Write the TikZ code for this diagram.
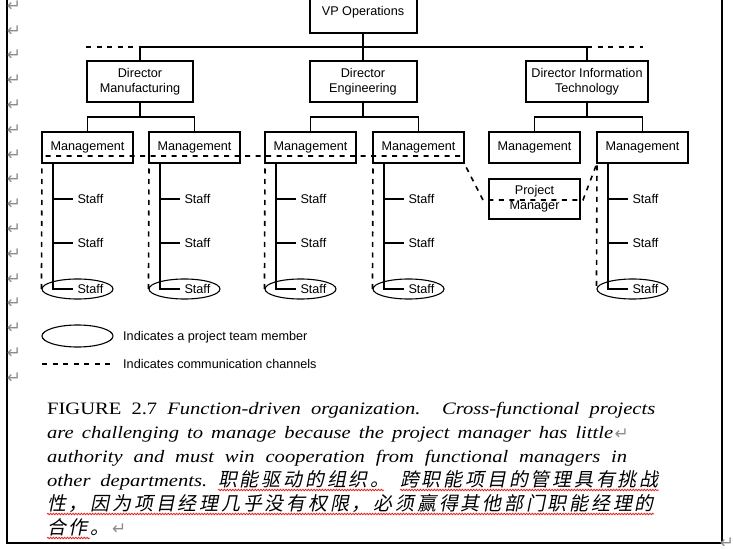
\documentclass[tikz,border=0pt]{standalone}
\usepackage{fontspec}
\usepackage{tikz}
\usetikzlibrary{shapes.geometric}
\usetikzlibrary{calc}
\usetikzlibrary{decorations.pathmorphing}
\setmainfont[FakeStretch=1.18]{Liberation Serif}
\newfontfamily\orgfont{Liberation Sans}
\newfontfamily\cjkfont[FakeSlant=0.2,LetterSpace=15]{Noto Sans CJK SC}
\newfontfamily\markfont{DejaVu Sans}
\definecolor{markgray}{RGB}{140,140,140}
\definecolor{wavyred}{RGB}{226,32,32}

\begin{document}
\begin{tikzpicture}[x=1bp, y=-1bp,
  orgbox/.style={draw, line width=2bp, inner sep=0pt, outer sep=0pt, align=center,
    font=\orgfont\fontsize{12.7}{15}\selectfont},
  mgmtbox/.style={orgbox, minimum width=91bp, minimum height=31bp},
  dirbox/.style={orgbox, minimum height=41bp},
  staff/.style={anchor=west, inner xsep=4.5bp, inner ysep=1bp, outer sep=0pt,
    font=\orgfont\fontsize{12.7}{15}\selectfont},
  team/.style={draw, ellipse, line width=1.1bp, inner sep=0pt, minimum width=71bp, minimum height=20bp},
  orgline/.style={line width=1.6bp},
  commline/.style={line width=1.6bp, dash pattern=on 5bp off 5.5bp},
  legtext/.style={anchor=west, inner sep=0pt, font=\orgfont\fontsize{12.7}{15}\selectfont},
  caption/.style={anchor=base west, inner sep=0pt, font=\fontsize{17.5}{24}\selectfont},
  cjkcaption/.style={anchor=base west, inner sep=0pt, font=\cjkfont\fontsize{19}{24}\selectfont},
  parmark/.style={inner sep=0pt, text=markgray, font=\markfont\fontsize{17}{17}\selectfont},
  wavy/.style={draw=wavyred, line width=0.8bp, decorate, decoration={snake, amplitude=0.75bp, segment length=2.8bp}},
  frameline/.style={line width=2.2bp}]

\useasboundingbox (0,0) rectangle (733,549);

% Frame
\coordinate (frameTL) at (7,-2);
\coordinate (frameBL) at (7,543);
\coordinate (frameBR) at (722,543);
\coordinate (frameTR) at (722,-2);
\draw[frameline] (frameTL) -- (frameBL) -- (frameBR) -- (frameTR);

% Paragraph marks
\foreach \i in {0,...,15}
  \node[parmark] (mark\i) at (14, 6+24.8*\i) {↵};
\node[parmark] (markEnd) at (727,543) {↵};

% Nodes
\node[dirbox, minimum width=107bp] (vp) at (363,12.5) {VP Operations};
\node[dirbox, minimum width=106bp] (dm) at (140,81.5) {Director\\Manufacturing};
\node[dirbox, minimum width=107bp] (de) at (363,81.5) {Director\\Engineering};
\node[dirbox, minimum width=122bp] (dit) at (587,81.5) {Director Information\\Technology};
\node[mgmtbox] (m1) at (87.5,147.5) {Management};
\node[mgmtbox] (m2) at (194.5,147.5) {Management};
\node[mgmtbox] (m3) at (310.5,147.5) {Management};
\node[mgmtbox] (m4) at (418.5,147.5) {Management};
\node[mgmtbox] (m5) at (534.5,147.5) {Management};
\node[mgmtbox] (m6) at (642.5,147.5) {Management};
\node[orgbox, minimum width=91bp, minimum height=40bp] (pm) at (534.5,199) {Project\\Manager};

% Staff
\foreach \m in {m1,m2,m3,m4,m6}{
  \node[staff] (\m s1) at ($(\m.south west)+(31,36)$) {Staff};
  \node[staff] (\m s2) at ($(\m.south west)+(31,80)$) {Staff};
  \node[staff] (\m s3) at ($(\m.south west)+(31,126)$) {Staff};
  \node[team] (\m e) at ($(\m.south west)+(35.5,126)$) {};
  \coordinate (\m t) at ($(\m.south west)+(11,0)$);
  \draw[orgline] (\m t) |- (\m s3);
  \draw[orgline] (\m s1) -- (\m s1 -| \m t);
  \draw[orgline] (\m s2) -- (\m s2 -| \m t);
}

% Edges
\coordinate (bus) at (363,47);
\coordinate (busW) at (86,47);
\coordinate (busE) at (643,47);
\draw[orgline] (vp) -- (de);
\draw[orgline] (dm) |- (bus) -| (dit);
\draw[commline] (busW) -- (dm |- bus);
\draw[commline] (dit |- bus) -- (busE);
\foreach \d/\a/\b in {dm/m1/m2, de/m3/m4, dit/m5/m6}
  \draw[orgline] (\d.south) -- ++(0,15) (\a) |- ($(\d.south)+(0,15)$) -| (\b);

% Communication channels
\coordinate (commW) at ($(m1.south west)+(0,-7)$);
\coordinate (commE) at ($(m4.south east)+(0,-7)$);
\coordinate (pmW) at ($(pm.west)+(-6,1)$);
\coordinate (pmE) at ($(pm.east)+(3,1)$);
\draw[commline] (m1e.west) -- (commW) -- (commE) -- (m4.south east) -- (pmW) -- (pmE) -- (m6.south west) -- (m6e.west);
\foreach \m in {m2,m3,m4}
  \draw[commline] (\m e.west) -- (\m.south west);

% Legend
\node[team, minimum height=22bp] (legteam) at (77.5,336) {};
\node[legtext] (legteamtext) at (123,337) {Indicates a project team member};
\coordinate (legW) at (42,364);
\node[legtext] (legcommtext) at (123,364) {Indicates communication channels};
\draw[commline] (legW) -- ($(legcommtext.west)+(-10,0)$);

% Caption
\node[caption] (cap1) at (47,414.5) {\makebox[608bp][s]{FIGURE 2.7 \textit{Function-driven organization. Cross-functional projects}}};
\node[caption] (cap2) at (47,438.5) {\makebox[566bp][s]{\textit{are challenging to manage because the project manager has little}}};
\node[parmark, anchor=west] (markLittle) at ($(cap2.base east)+(1,-4)$) {↵};
\node[caption] (cap3) at (47,462.5) {\makebox[580bp][s]{\textit{authority and must win cooperation from functional managers in}}};
\node[caption] (cap4a) at (47,486) {\makebox[160bp][s]{\textit{other departments.}}};
\node[cjkcaption] (cap4b) at (218,486) {职能驱动的组织。};
\node[cjkcaption] (cap4c) at (400,486) {跨职能项目的管理具有挑战};
\node[cjkcaption] (cap5) at (47,510) {性，因为项目经理几乎没有权限，必须赢得其他部门职能经理的};
\node[cjkcaption] (cap6) at (47,534) {合作。};
\node[parmark, anchor=west] (markCoop) at ($(cap6.base east)+(2,-5)$) {↵};
\draw[wavy] ($(cap4b.base west)+(0,4)$) -- ($(cap4b.base east)+(-6,4)$);
\draw[wavy] ($(cap4c.base west)+(0,4)$) -- ($(cap4c.base east)+(0,4)$);
\draw[wavy] ($(cap5.base west)+(0,4)$) -- ($(cap5.base east)+(0,4)$);
\draw[wavy] ($(cap6.base west)+(0,4)$) -- ($(cap6.base west)+(43,4)$);
\end{tikzpicture}
\end{document}
